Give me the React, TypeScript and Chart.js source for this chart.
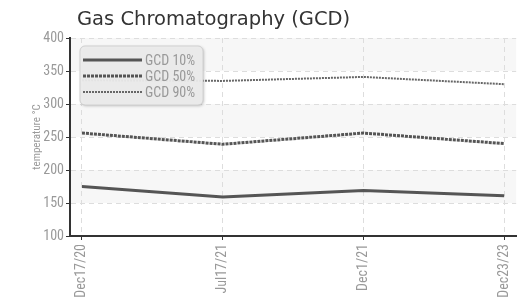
import React, { useEffect, useRef } from "react";
import { Chart, registerables } from "chart.js";

Chart.register(...registerables);

const categories = ["Dec17/20", "Jul17/21", "Dec1/21", "Dec23/23"];
const gcd10 = [175, 159, 169, 161];
const gcd50 = [256, 239, 256, 240];
const gcd90 = [336, 335, 341, 330];
const seriesNames = ["GCD 10%", "GCD 50%", "GCD 90%"];
const yTicks = [100, 150, 200, 250, 300, 350, 400];

const NARROW = "'Roboto Condensed', 'Liberation Sans Narrow', sans-serif";

const bandsPlugin = {
  id: "bands",
  beforeDraw(chart: any) {
    const { ctx, chartArea, scales } = chart;
    const y = scales.y;
    ctx.save();
    ctx.fillStyle = "#f7f7f7";
    const bands = [[350, 400], [250, 300], [150, 200]];
    for (const [a, b] of bands) {
      const top = y.getPixelForValue(b);
      const bot = y.getPixelForValue(a);
      ctx.fillRect(chartArea.left, top, chartArea.right - chartArea.left, bot - top);
    }
    ctx.restore();
  },
};

const titlePlugin = {
  id: "customTitle",
  afterDraw(chart: any) {
    const { ctx, chartArea } = chart;
    ctx.save();
    ctx.font = "19.5px 'DejaVu Sans', sans-serif";
    ctx.fillStyle = "#333";
    ctx.textBaseline = "alphabetic";
    ctx.fillText("Gas Chromatography (GCD)", chartArea.left + 7, 25);
    ctx.restore();
  },
};

const legendPlugin = {
  id: "customLegend",
  afterDraw(chart: any) {
    const { ctx, chartArea } = chart;
    const x0 = chartArea.left + 10;
    const y0 = chartArea.top + 8;
    const w = 123;
    const h = 59;
    ctx.save();
    ctx.shadowColor = "rgba(0,0,0,0.25)";
    ctx.shadowBlur = 3;
    ctx.shadowOffsetX = 1;
    ctx.shadowOffsetY = 1;
    ctx.fillStyle = "rgba(236,236,236,0.95)";
    ctx.beginPath();
    (ctx as any).roundRect(x0, y0, w, h, 5);
    ctx.fill();
    ctx.shadowColor = "transparent";
    ctx.strokeStyle = "#d0d0d0";
    ctx.lineWidth = 1;
    ctx.stroke();
    const datasets = chart.data.datasets;
    datasets.forEach((ds: any, i: number) => {
      const yy = y0 + 14 + i * 16;
      ctx.beginPath();
      ctx.strokeStyle = ds.borderColor;
      ctx.lineWidth = ds.borderWidth;
      ctx.setLineDash(ds.borderDash || []);
      ctx.moveTo(x0 + 3, yy);
      ctx.lineTo(x0 + 62, yy);
      ctx.stroke();
      ctx.setLineDash([]);
      ctx.font = "14px " + NARROW;
      ctx.fillStyle = "#999";
      ctx.textBaseline = "middle";
      ctx.fillText(ds.label, x0 + 65, yy + 1);
    });
    ctx.restore();
  },
};

export default function App() {
  const ref = useRef<HTMLCanvasElement | null>(null);
  useEffect(() => {
    document.body.style.margin = "0";
    const mk = (arr: number[]) => arr.map((v, i) => ({ x: i, y: v }));
    const chart = new Chart(ref.current!, {
      type: "line",
      data: {
        datasets: [
          { label: seriesNames[0], data: mk(gcd10), borderColor: "#555", borderWidth: 3, pointRadius: 0, tension: 0 },
          { label: seriesNames[1], data: mk(gcd50), borderColor: "#555", borderWidth: 3, borderDash: [3, 1], pointRadius: 0, tension: 0 },
          { label: seriesNames[2], data: mk(gcd90), borderColor: "#666", borderWidth: 2, borderDash: [2, 1], pointRadius: 0, tension: 0 },
        ],
      },
      options: {
        animation: false,
        responsive: false,
        maintainAspectRatio: false,
        layout: { padding: { top: 38, right: 0, left: 0, bottom: 0 } },
        plugins: { legend: { display: false }, tooltip: { enabled: false }, title: { display: false } },
        scales: {
          x: {
            type: "linear",
            min: -0.085,
            max: 3.085,
            afterFit: (s: any) => { s.height = 66; },
            afterBuildTicks: (s: any) => { s.ticks = categories.map((_, i) => ({ value: i })); },
            ticks: {
              includeBounds: false,
              autoSkip: false,
              maxRotation: 90,
              minRotation: 90,
              padding: 4,
              color: "#999",
              font: { family: NARROW, size: 14 },
              callback: (v: any) => categories[Math.round(v)] ?? "",
            },
            grid: { color: "#ddd", tickColor: "#333", tickLength: 4, tickBorderDash: [] },
            border: { color: "#333", width: 2, dash: [5, 4] },
          },
          y: {
            min: 100,
            max: 400,
            afterFit: (s: any) => { s.width = 70; },
            afterBuildTicks: (s: any) => { s.ticks = yTicks.map((v) => ({ value: v })); },
            ticks: {
              padding: 2,
              color: "#999",
              font: { family: NARROW, size: 14 },
            },
            title: {
              display: true,
              text: "temperature °C",
              color: "#999",
              font: { family: NARROW, size: 11 },
              padding: { top: 31, bottom: 0 },
            },
            grid: { color: "#ddd", tickColor: "#333", tickLength: 4, tickBorderDash: [] },
            border: { color: "#333", width: 2, dash: [5, 4] },
          },
        },
      },
      plugins: [bandsPlugin, titlePlugin, legendPlugin],
    } as any);
    return () => chart.destroy();
  }, []);
  return (
    <div style={{ position: "absolute", left: 0, top: 0, width: 525, height: 302 }}>
      <canvas ref={ref} width={525} height={302} style={{ width: 525, height: 302 }} />
    </div>
  );
}
